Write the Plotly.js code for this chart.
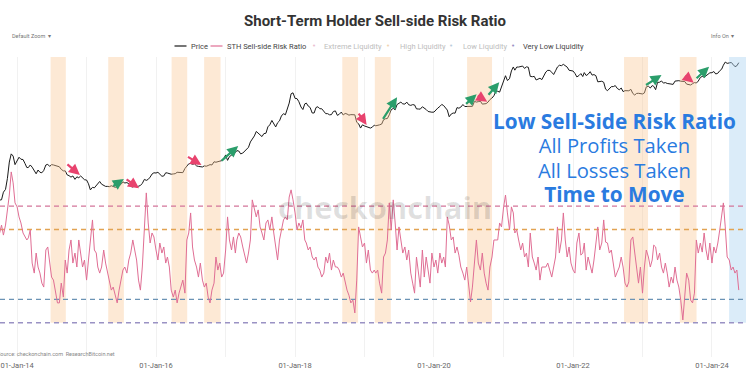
<!DOCTYPE html>
<html><head><meta charset="utf-8">
<script src="https://cdn.plot.ly/plotly-3.0.1.min.js"></script>
<style>html,body{margin:0;padding:0;background:#fff}#chart{width:750px;height:375px}</style>
</head><body><div id="chart"></div>
<script>
// Samples on the 1st, 11th and 21st of every month (36 per year)
const SAMPLE_DAYS = [1, 11, 21];
const N = null;

// STH Sell-side Risk Ratio (%)
const risk2013 = [N,N,N,N,N,N,N,N,N,N,N,N,N,N,N,N,N,N,N,N,N,N,N,N,N,N, .485,.485,.519,.476,.519,.584,.648,.747,.700,.614];
const risk2014 = [.597,.554,.528,.485,.468,.455,.464,.498,.356,.313,.399,.339,.313,.270,.253,.412,.425,.356,.296,.283,.227,.185,.185,.270,.210,.369,.313,.412,.455,.356,.399,.339,.455,.399,.339,.369];
const risk2015 = [.283,.369,.468,.541,.412,.399,.339,.313,.339,.412,.356,.313,.270,.240,.253,.210,.185,.240,.283,.326,.339,.313,.369,.399,.455,.412,.369,.283,.240,.339,.511,.657,.528,.442,.485,.468];
const risk2016 = [.412,.369,.442,.399,.425,.356,.382,.339,.240,.210,.240,.185,.227,.253,.283,.227,.455,.485,.571,.425,.369,.339,.296,.356,.283,.253,.270,.210,.185,.240,.270,.382,.326,.356,.296,.313];
const risk2017 = [.412,.554,.455,.412,.468,.399,.455,.485,.468,.425,.382,.356,.399,.455,.627,.584,.554,.584,.511,.485,.455,.528,.541,.498,.554,.485,.425,.369,.455,.498,.541,.554,.541,.639,.670,.627];
const risk2018 = [.571,.498,.528,.506,.541,.455,.442,.412,.425,.382,.369,.382,.339,.326,.296,.313,.382,.356,.399,.326,.369,.339,.339,.326,.296,.313,.270,.240,.218,.185,.197,.142,.283,.511,.468,.425];
const risk2019 = [.442,.356,.412,.326,.313,.326,.313,.326,.270,.227,.382,.399,.455,.614,.498,.627,.528,.412,.511,.455,.399,.425,.369,.412,.313,.270,.227,.382,.313,.253,.412,.296,.382,.326,.270,.399];
const risk2020 = [.339,.369,.313,.399,.356,.382,.339,.554,.519,.455,.468,.399,.425,.390,.339,.313,.283,.339,.253,.189,.253,.382,.455,.356,.326,.399,.313,.270,.240,.339,.382,.455,.455,.455,.528,.511];
const risk2021 = [.597,.648,.571,.498,.597,.571,.485,.498,.455,.412,.442,.382,.399,.339,.485,.382,.356,.326,.382,.283,.339,.339,.339,.356,.326,.296,.339,.382,.511,.399,.455,.571,.455,.382,.425,.356];
const risk2022 = [.326,.313,.442,.485,.390,.399,.442,.326,.382,.339,.313,.369,.455,.511,.412,.442,.541,.446,.442,.399,.412,.356,.296,.317,.339,.382,.339,.270,.253,.275,.455,.468,.399,.339,.270,.339];
const risk2023 = [.227,.339,.412,.382,.339,.369,.433,.425,.369,.399,.339,.313,.356,.313,.253,.296,.270,.339,.283,.253,.197,.112,.227,.313,.283,.197,.185,.227,.455,.399,.442,.403,.485,.412,.369,.442];
const risk2024 = [.356,.425,.399,.442,.498,.554,.614,.511,.382,.369,.326,.339,.313,.326,.240];

// BTC price (USD)
const price2013 = [N,N,N,N,N,N,N,N,N,N,N,N,N,N,N,N,N,N,N,N,N,N,N,N,N,N, 123,125,127,180,205,340,720,1050,950,640];
const price2014 = [770,900,820,810,680,560,560,630,570,480,420,500,450,440,490,630,650,590,640,630,620,590,580,515,480,480,400,385,360,380,325,365,350,380,350,320];
const price2015 = [315,265,200,225,220,245,260,295,260,245,235,235,232,242,235,225,230,245,258,290,275,280,265,235,228,240,230,237,245,270,325,310,325,360,415,440];
const price2016 = [435,450,410,375,380,440,435,420,412,417,422,450,450,455,443,535,590,665,675,650,665,605,590,580,575,605,595,615,640,630,730,715,740,755,770,830];
const price2017 = [1000,780,925,990,1000,1120,1220,1200,1050,1090,1200,1260,1420,1820,2050,2400,2950,2690,2480,2330,2670,2720,3650,4000,4900,4200,3630,4400,4800,6000,6700,6350,8200,10900,16700,17500];
const price2018 = [13500,13400,11600,9100,8100,10500,10900,9500,8900,6900,6900,8900,9200,8400,8400,7500,6700,6700,6350,6400,7400,7600,6200,6500,7200,6300,6750,6600,6250,6400,6380,6350,4500,4200,3450,4000];
const price2019 = [3800,3650,3550,3450,3600,3950,3830,3880,4000,4150,5050,5300,5350,6350,8000,8550,8000,10200,10600,11400,10500,10400,11400,10100,9800,10150,10000,8350,8300,8250,9200,8800,8100,7400,7200,7150];
const price2020 = [7200,8050,8650,9350,10250,9700,8550,7900,5800,6600,6900,6850,8850,8600,9050,10200,9300,9300,9230,9230,9380,11800,11400,11650,11900,10400,10400,10620,11380,12800,13750,15300,18700,18800,18050,23500];
const price2021 = [29400,38400,30800,33500,47900,57500,49600,57300,57300,58900,60000,53800,57800,56700,37300,36700,37300,31600,33500,34200,32100,39900,45600,49300,48800,45100,40600,48200,57500,62200,61000,64900,59700,57200,49400,48900];
const price2022 = [47700,42700,36300,38700,42400,37000,44400,38800,41000,46300,39500,40500,38500,29000,29400,29800,28400,20700,19300,20800,23200,23300,24400,21500,20100,21800,18500,19300,19100,19200,20500,17000,15800,17000,17100,16800];
const price2023 = [16600,17400,23000,23700,21800,24400,23600,20200,28200,28500,30200,27300,28000,26900,26800,26800,25800,30000,30600,30600,29900,29700,29400,26100,25900,25100,26600,28000,27400,30000,35400,37300,35800,38700,41200,43900];
const price2024 = [44200,46600,41600,43100,48300,51800,62400,72100,67800,69700,70600,64900,58300,60800,70100];

// Liquidity levels of the risk ratio
const levelNames  = ['Extreme Liquidity', 'High Liquidity', 'Low Liquidity', 'Very Low Liquidity'];
const levelValues = [0.6, 0.5, 0.2, 0.1];

// Very-low-liquidity periods (orange) and the current period (blue)
const bandStart = ['2014-06-26','2015-04-25','2016-03-23','2016-09-10','2018-09-06','2019-02-24','2020-06-23','2022-09-26','2023-07-16'];
const bandEnd   = ['2014-09-14','2015-07-16','2016-06-13','2016-12-05','2018-11-28','2019-05-19','2020-11-01','2023-01-30','2023-10-12'];
const currentStart = ['2024-03-31'];
const currentEnd   = ['2024-06-28'];

// Arrow call-outs on the price: date, price at the tip, kind
const arrowDates  = ['2014-11-27','2015-07-16','2015-10-04','2016-08-27','2017-03-08','2019-01-12','2019-06-21','2020-08-12','2020-10-07','2020-12-09','2023-04-11','2023-09-27','2023-12-17'];
const arrowPrices = [397,330,215,630,1510,3970,14230,16330,11610,28400,39700,27900,58200];
const arrowKinds  = ['sell','buy','sell','sell','buy','sell','buy','buy','sell','buy','buy','sell','buy'];

// Message text
const messageLines = ['Low Sell-Side Risk Ratio', 'All Profits Taken', 'All Losses Taken', 'Time to Move'];
const messageBold  = [true, false, false, true];

// ---------- build ----------
const years = [2013,2014,2015,2016,2017,2018,2019,2020,2021,2022,2023,2024];
const riskByYear  = {2013:risk2013,2014:risk2014,2015:risk2015,2016:risk2016,2017:risk2017,2018:risk2018,2019:risk2019,2020:risk2020,2021:risk2021,2022:risk2022,2023:risk2023,2024:risk2024};
const priceByYear = {2013:price2013,2014:price2014,2015:price2015,2016:price2016,2017:price2017,2018:price2018,2019:price2019,2020:price2020,2021:price2021,2022:price2022,2023:price2023,2024:price2024};
const pad = n => String(n).padStart(2,'0');
const dates = [], risk = [], price = [];
years.forEach(y => {
  const r = riskByYear[y], p = priceByYear[y];
  for (let j = 0; j < r.length; j++) {
    if (r[j] === null && p[j] === null) continue;
    dates.push(`${y}-${pad(Math.floor(j/3)+1)}-${pad(SAMPLE_DAYS[j%3])}`);
    risk.push(r[j]); price.push(p[j]);
  }
});

const X_RANGE = ['2013-10-03', '2024-06-28'];
const PRICE_RANGE = [-1.041, 4.959];
const RISK_RANGE = [-0.047, 1.24];

function bandTrace(starts, ends, color) {
  const x = [], y = [];
  starts.forEach((s, i) => {
    const e = ends[i];
    x.push(s, s, e, e, s, null);
    y.push(levelValues[3], RISK_RANGE[1], RISK_RANGE[1], levelValues[3], levelValues[3], null);
  });
  return {x, y, yaxis:'y2', type:'scatter', mode:'lines', fill:'toself', fillcolor:color,
          line:{width:0}, hoverinfo:'skip', showlegend:false};
}

const levelColors = ['#d4759a', '#e2a352', '#6b93b5', '#9a92c4'];
const RISK_COLOR = '#e06e94', PRICE_COLOR = '#1a1a1a';
const traces = [];
traces.push(bandTrace(bandStart, bandEnd, 'rgba(250,200,150,0.40)'));
traces.push(bandTrace(currentStart, currentEnd, 'rgba(170,210,240,0.42)'));
levelValues.forEach((v, i) => {
  traces.push({x:X_RANGE, y:[v, v], yaxis:'y2', type:'scatter', mode:'lines', name:levelNames[i],
    line:{color:levelColors[i], width:1.3, dash:'5px,4px'}, hoverinfo:'skip', showlegend:false});
});
traces.push({x:dates, y:risk, yaxis:'y2', type:'scatter', mode:'lines', name:'STH Sell-side Risk Ratio',
  line:{color:RISK_COLOR, width:1}, showlegend:false});
traces.push({x:dates, y:price, yaxis:'y', type:'scatter', mode:'lines', name:'Price',
  line:{color:PRICE_COLOR, width:1}, showlegend:false});

const PLOT_TOP = 57, PLOT_BOTTOM = 357, PLOT_W = 746;
const py = pix => (PLOT_BOTTOM - pix) / (PLOT_BOTTOM - PLOT_TOP);
const px = pix => pix / PLOT_W;

// arrow tail offsets in pixels (styling)
const tailDX = [-14,-12,-14,-15,-18,-9,-15,-12,-11,-12,-17,-10,-14];
const tailDY = [-12,  8,-10, -9, 16,-13, 23, 11, -7, 14, 11, -8, 13];
const arrowColor = {sell:'#e8436e', buy:'#2b9e6b'};
const arrowAnn = arrowDates.map((d, i) => ({
  x:d, y:Math.log10(arrowPrices[i]), xref:'x', yref:'y', text:'',
  showarrow:true, arrowhead:2, arrowsize:1, arrowwidth:2.2, arrowcolor:arrowColor[arrowKinds[i]],
  ax:tailDX[i], ay:tailDY[i], standoff:0
}));

// legend drawn as text + short line symbols
const LEG_Y = 46, LEG_FONT = {family:'Roboto, sans-serif', size:7.5, color:'#444'};
const legendItems = [
  {label:'Price', kind:'line', color:PRICE_COLOR, sx:174.5, tx:189, on:true},
  {label:'STH Sell-side Risk Ratio', kind:'line', color:RISK_COLOR, sx:210.5, tx:225, on:true},
  {label:levelNames[0], kind:'dot', color:levelColors[0], sx:313.5, tx:322, on:false},
  {label:levelNames[1], kind:'dot', color:levelColors[1], sx:388.5, tx:398, on:false},
  {label:levelNames[2], kind:'dot', color:levelColors[2], sx:451, tx:460.5, on:false},
  {label:levelNames[3], kind:'dot', color:levelColors[3], sx:512.5, tx:521, on:true}
];
const legendShapes = [], legendAnn = [];
legendItems.forEach(it => {
  if (it.kind === 'line') {
    legendShapes.push({type:'line', xref:'paper', yref:'paper', x0:px(it.sx), x1:px(it.sx+12), y0:py(LEG_Y), y1:py(LEG_Y),
      line:{color:it.color, width:1.2}});
  } else {
    legendAnn.push({text:'•', xref:'paper', yref:'paper', x:px(it.sx), y:py(LEG_Y), xanchor:'center', yanchor:'middle',
      showarrow:false, opacity: it.on ? 1 : 0.45, font:{family:'DejaVu Sans', size:7, color:it.color}});
  }
  legendAnn.push({text:it.label, xref:'paper', yref:'paper', x:px(it.tx), y:py(LEG_Y), xanchor:'left', yanchor:'middle',
    showarrow:false, font:{...LEG_FONT, color: it.on ? '#444' : '#bdbdbd'}});
});

// one multi-line message block (base size sets the 24px line pitch)
const messageText = messageLines.map((t, i) => messageBold[i]
  ? `<span style="font-size:20.8px"><b>${t}</b></span>`
  : `<span style="font-size:20.2px">${t}</span>`).join('<br>');

const annotations = [
  {text:'checkonchain', xref:'paper', yref:'paper', x:px(385), y:py(207), xanchor:'center', yanchor:'middle', showarrow:false,
   font:{family:'Open Sans, sans-serif', size:31, color:'rgba(0,0,0,0.12)', weight:'bold'}},
  {text:messageText, xref:'paper', yref:'paper', x:px(614), y:py(157), xanchor:'center', yanchor:'middle',
   showarrow:false, align:'center', font:{family:'Open Sans, sans-serif', size:18.7, color:'#2a7be0'}},
  {text:'Default Zoom  ▾', xref:'paper', yref:'paper', x:px(10), y:py(36), xanchor:'left', yanchor:'middle', showarrow:false,
   font:{family:'Roboto, sans-serif', size:5.5, color:'#777'}},
  {text:'Info On  ▾', xref:'paper', yref:'paper', x:px(709), y:py(36), xanchor:'left', yanchor:'middle', showarrow:false,
   font:{family:'Roboto, sans-serif', size:5.5, color:'#777'}},
  {text:'Source: checkonchain.com  ResearchBitcoin.net', xref:'paper', yref:'paper', x:px(-5), y:py(354),
   xanchor:'left', yanchor:'middle', showarrow:false, font:{family:'Roboto, sans-serif', size:5.5, color:'#888'}},
  ...legendAnn,
  ...arrowAnn
];

const layout = {
  width:750, height:375,
  margin:{l:0, r:4, t:PLOT_TOP, b:375-PLOT_BOTTOM},
  paper_bgcolor:'#fff', plot_bgcolor:'#fff',
  title:{text:'Short-Term Holder Sell-side Risk Ratio', x:0.5, xanchor:'center', y:1-21/375, yanchor:'middle',
         font:{family:'Roboto, sans-serif', size:15, color:'#333', weight:'bold'}},
  xaxis:{type:'date', range:X_RANGE, tick0:'2014-01-01', dtick:'M24', tickformat:'%d-%b-%y',
         tickfont:{family:'Roboto, sans-serif', size:7.5, color:'#666'}, ticks:'', ticklabelstandoff:2,
         showgrid:true, gridcolor:'#f1f1f1', gridwidth:1,
         minor:{dtick:'M12', showgrid:true, gridcolor:'#f1f1f1'},
         zeroline:false, showline:false, fixedrange:true},
  yaxis:{type:'log', range:PRICE_RANGE, visible:false, showgrid:false, zeroline:false},
  yaxis2:{type:'linear', range:RISK_RANGE, overlaying:'y', visible:false, showgrid:false, zeroline:false},
  showlegend:false,
  shapes:legendShapes,
  annotations
};

Plotly.newPlot('chart', traces, layout, {displayModeBar:false, staticPlot:true});
</script>
</body></html>
